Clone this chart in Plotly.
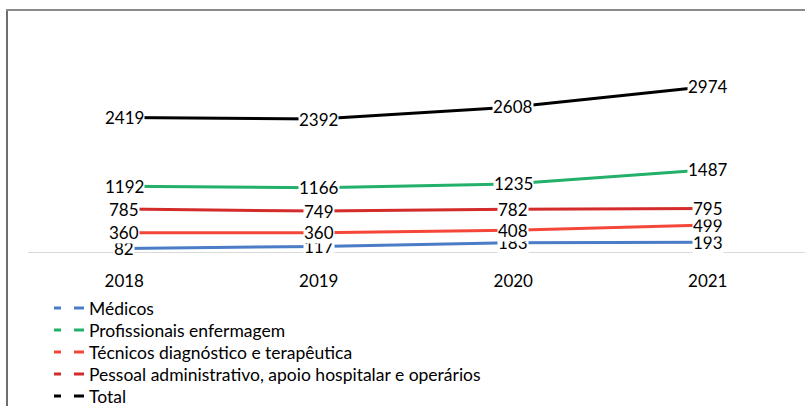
import plotly.graph_objects as go

years = ["2018", "2019", "2020", "2021"]
medicos = [82, 117, 183, 193]
enfermagem = [1192, 1166, 1235, 1487]
tecnicos = [360, 360, 408, 499]
pessoal = [785, 749, 782, 795]
total = [2419, 2392, 2608, 2974]

series_names = [
    "Médicos",
    "Profissionais enfermagem",
    "Técnicos diagnóstico e terapêutica",
    "Pessoal administrativo, apoio hospitalar e operários",
    "Total",
]
series_values = [medicos, enfermagem, tecnicos, pessoal, total]
series_colors = ["#4a7cc7", "#22b06a", "#f4473a", "#d42b2b", "#000000"]

FONT = "Lato, Calibri, Carlito, sans-serif"

W, H = 805, 406
L, R, T, B = 27, 0, 29, 153
pw, ph = W - L - R, H - T - B

xpos = list(range(len(years)))

fig = go.Figure()

for name, vals, col in zip(series_names, series_values, series_colors):
    fig.add_trace(go.Scatter(
        x=xpos, y=vals, mode="lines", name=name,
        line=dict(color=col, width=3), showlegend=False, hoverinfo="skip",
    ))

legend_ids = ["legend"] + ["legend%d" % (i + 2) for i in range(len(series_names) - 1)]

for name, col, lid in zip(series_names, series_colors, legend_ids):
    fig.add_trace(go.Scatter(
        x=[None], y=[None], mode="lines", name=name, legend=lid,
        line=dict(color=col, width=3, dash="7px,13px,12px,60px"), showlegend=True,
    ))

annotations = []
for vals in series_values:
    for xv, yv in zip(xpos, vals):
        annotations.append(dict(
            x=xv, y=yv, xref="x", yref="y", text=str(yv), showarrow=False,
            font=dict(family=FONT, size=17, color="#000000"),
            bgcolor="#ffffff", borderpad=0, xanchor="center", yanchor="middle",
        ))

def px_to_paper_x(px):
    return (px - L) / pw

def px_to_paper_y(py):
    return (H - B - py) / ph

shapes = [
    dict(type="line", xref="paper", yref="y", x0=px_to_paper_x(28), x1=1, y0=0, y1=0,
         line=dict(color="#d9d9d9", width=2), layer="below"),
    dict(type="line", xref="paper", yref="paper",
         x0=px_to_paper_x(7), x1=px_to_paper_x(7),
         y0=px_to_paper_y(10), y1=px_to_paper_y(410),
         line=dict(color="#6e6e6e", width=2), layer="below"),
    dict(type="line", xref="paper", yref="paper",
         x0=px_to_paper_x(6), x1=1,
         y0=px_to_paper_y(10), y1=px_to_paper_y(10),
         line=dict(color="#8a8a8a", width=2), layer="below"),
]

legend_centers = [308, 330, 352, 374, 396]
layout_legends = {}
for lid, cy in zip(legend_ids, legend_centers):
    layout_legends[lid] = dict(
        x=px_to_paper_x(49), y=px_to_paper_y(cy), xanchor="left", yanchor="middle",
        orientation="v", font=dict(family=FONT, size=17.5, color="#000000"),
        bgcolor="rgba(0,0,0,0)", borderwidth=0, itemwidth=30,
    )

fig.update_layout(
    width=W, height=H,
    margin=dict(l=L, r=R, t=T, b=B, pad=0, autoexpand=False),
    paper_bgcolor="#ffffff", plot_bgcolor="#ffffff",
    font=dict(family=FONT, size=16, color="#000000"),
    xaxis=dict(
        range=[-0.5, 3.5], tickvals=xpos, ticktext=years,
        showgrid=False, zeroline=False, showline=False,
        ticks="", tickfont=dict(family=FONT, size=17, color="#000000"),
        ticklabelstandoff=16, fixedrange=True,
    ),
    yaxis=dict(
        range=[0, 4000], showgrid=False, zeroline=False, showline=False,
        showticklabels=False, ticks="", fixedrange=True,
    ),
    showlegend=True,
    annotations=annotations,
    shapes=shapes,
    **layout_legends,
)

fig.write_html(
    "out.html",
    config={"displayModeBar": False},
    post_script=(
        "document.body.style.margin='0';"
        "document.body.style.overflow='hidden';"
        "document.documentElement.style.overflow='hidden';"
    ),
)
